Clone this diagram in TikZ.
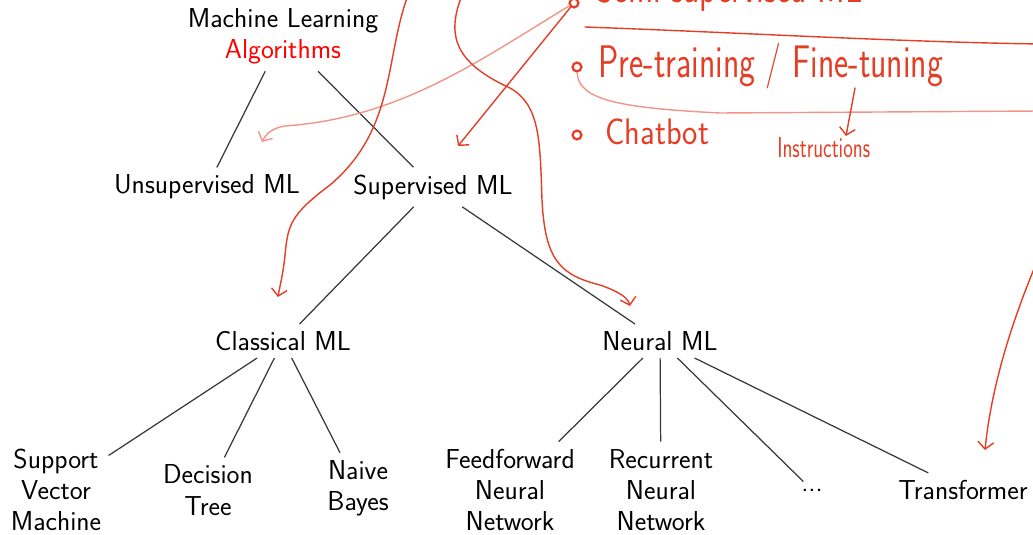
\documentclass[tikz,border=0pt]{standalone}
\usepackage{xcolor}
\usepackage{tikz}
\usetikzlibrary{arrows.meta,positioning,calc}
\definecolor{ink}{RGB}{228,62,38}
\definecolor{edgegray}{RGB}{55,55,55}
\newcommand\mlfont{\sffamily\fontsize{15.6}{17.8}\selectfont}
\newcommand\inkfont[1]{\sffamily\fontsize{#1}{#1}\selectfont}
\tikzset{
  mlnode/.style={font=\mlfont, align=center, inner sep=4pt},
  treeedge/.style={draw=edgegray, line width=0.7pt},
  inkline/.style={draw=ink, line width=0.8pt, line cap=round},
  inkarrow/.style={inkline, -{Straight Barb[length=4pt, width=9pt]}},
  inktext/.style={text=ink, inner sep=0pt, anchor=base west, transform shape},
  inkdot/.style={circle, draw=ink, line width=1.3pt, inner sep=0pt, minimum size=5pt}
}
\begin{document}
\begin{tikzpicture}[x=0.2mm, y=-0.2mm]
\useasboundingbox (0,0) rectangle (1033,535);
\clip (0,0) rectangle (1033,535);

% tree
\node[mlnode] (ml) at (283,36) {Machine Learning\\\textcolor{red}{Algorithms}};
\node[mlnode] (unsup) at (207,187) {Unsupervised ML};
\node[mlnode] (sup) at (433,187) {Supervised ML};
\node[mlnode] (classic) at (283,341) {Classical ML};
\node[mlnode] (neural) at (660,341) {Neural ML};
\node[mlnode] (svm) at (56,490) {Support\\Vector\\Machine};
\node[mlnode] (dtree) at (208,490) {Decision\\Tree};
\node[mlnode] (bayes) at (358,488) {Naive\\Bayes};
\node[mlnode] (ffnn) at (510,490) {Feedforward\\Neural\\Network};
\node[mlnode] (rnn) at (661,490) {Recurrent\\Neural\\Network};
\node[mlnode] (more) at (812,490) {...};
\node[mlnode] (trans) at (963,490) {Transformer};

\draw[treeedge] (ml)--(unsup);
\draw[treeedge] (ml)--(sup);
\draw[treeedge] (sup)--(classic);
\draw[treeedge] (sup)--(neural);
\draw[treeedge] (classic)--(svm);
\draw[treeedge] (classic)--(dtree);
\draw[treeedge] (classic)--(bayes);
\draw[treeedge] (neural)--(ffnn);
\draw[treeedge] (neural)--(rnn);
\draw[treeedge] (neural)--(more);
\draw[treeedge] (neural)--(trans);

% handwritten notes
\node[inkdot] (semidot) at (574,3) {};
\node[inkdot] (predot) at (577,67) {};
\node[inkdot] (chatdot) at (577,135) {};
\node[inktext, font=\inkfont{26}, xscale=0.74] (semi) at (596,3) {Semi-supervised ML};
\node[inktext, font=\inkfont{26}, xscale=0.74] (pre) at (598,78) {Pre-training / Fine-tuning};
\node[inktext, font=\inkfont{21}, xscale=0.88] (chat) at (605,145) {Chatbot};
\node[inktext, font=\inkfont{16.4}, xscale=0.71] (instr) at (777,158) {Instructions};

\coordinate (lineA) at (585,27);
\coordinate (lineB) at (1040,44);
\coordinate (ftTop) at (855,88);
\coordinate (ftTip) at (846,136);
\coordinate (tipUnsup) at (262,142);
\coordinate (tipSup) at (458,146);
\coordinate (startC) at (407,-2);
\coordinate (tipClassic) at (278,297);
\coordinate (startN) at (461,-2);
\coordinate (tipNeural) at (630,306);
\coordinate (startT) at (1042,250);
\coordinate (tipTrans) at (985,450);

\draw[inkline] (lineA) .. controls (750,33) and (900,42) .. (lineB);
\draw[inkline, draw=ink!55] (predot) .. controls (578,100) and (620,108) .. (720,113) -- (1040,111);
\draw[inkarrow] (ftTop) -- (ftTip);

\draw[inkarrow, draw=ink!55] (semidot) .. controls (480,60) and (400,118) .. (285,126)
  .. controls (272,128) and (266,134) .. (tipUnsup);
\draw[inkarrow] (semidot) -- (tipSup);
\draw[inkarrow] (startC) .. controls (385,60) and (395,130) .. (330,185)
  .. controls (290,215) and (288,225) .. (285,255)
  .. controls (283,275) and (280,285) .. (tipClassic);
\draw[inkarrow] (startN) .. controls (445,40) and (460,65) .. (510,88)
  .. controls (540,105) and (540,140) .. (542,200)
  .. controls (545,260) and (560,275) .. (600,285)
  .. controls (620,292) and (628,298) .. (tipNeural);
\draw[inkarrow] (startT) .. controls (1005,335) and (990,400) .. (tipTrans);
\end{tikzpicture}
\end{document}
